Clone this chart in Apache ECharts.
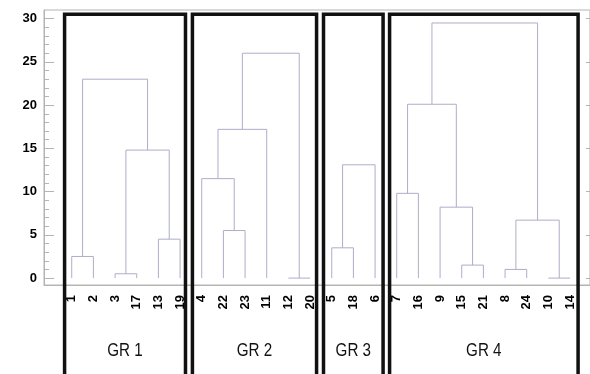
<!DOCTYPE html>
<html>
<head>
<meta charset="utf-8">
<script src="https://cdn.jsdelivr.net/npm/echarts@6/dist/echarts.min.js"></script>
<style>html,body{margin:0;padding:0;background:#fff}#c{width:590px;height:374px}</style>
</head>
<body>
<div id="c"></div>
<script>
// Leaf labels in dendrogram order
const leaves = ['1','2','3','17','13','19','4','22','23','11','12','20','5','18','6','7','16','9','15','21','8','24','10','14'];
// Merges: [childA, childB, height]; child < 24 is a leaf index, otherwise cluster id (24 + merge index)
const merges = [
  [0, 1, 2.5], [2, 3, 0.5], [4, 5, 4.5], [25, 26, 14.8], [24, 27, 23.0],
  [7, 8, 5.5], [6, 29, 11.5], [30, 9, 17.2], [10, 11, 0.0], [31, 32, 26.0],
  [12, 13, 3.5], [34, 14, 13.1],
  [15, 16, 9.8], [18, 19, 1.5], [17, 37, 8.2], [36, 38, 20.1], [20, 21, 1.0], [22, 23, 0.0], [40, 41, 6.7], [39, 42, 29.5]
];
// Group labels and their leaf-index spans (box edges in leaf units)
const groupNames = ['GR 1', 'GR 2', 'GR 3', 'GR 4'];
const groupLeft = [-0.33, 5.57, 11.62, 14.67];
const groupRight = [5.25, 11.30, 14.37, 23.37];
const yTicks = [0, 5, 10, 15, 20, 25, 30];
const yMinorTicks = [1,2,3,4,6,7,8,9,11,12,13,14,16,17,18,19,21,22,23,24,26,27,28,29];

// Build dendrogram polyline data
const nodeX = leaves.map((_, i) => i);
const nodeH = leaves.map(() => 0);
const lineData = [];
merges.forEach(([a, b, h]) => {
  const xa = nodeX[a], xb = nodeX[b];
  lineData.push([xa, nodeH[a]], [xa, h], [xb, h], [xb, nodeH[b]], [null, null]);
  nodeX.push((xa + xb) / 2);
  nodeH.push(h);
});

const chart = echarts.init(document.getElementById('c'));
const gray = '#b4b4b4';
const font = 'Liberation Sans, Arial, sans-serif';
chart.setOption({
  animation: false,
  grid: { left: 44, right: 0, top: 10, bottom: 89, show: true, borderColor: gray, borderWidth: 1 },
  xAxis: {
    type: 'value', min: -1.28, max: 23.92,
    axisLine: { show: true, onZero: false, lineStyle: { color: gray } },
    axisTick: { show: false },
    splitLine: { show: false },
    axisLabel: {
      customValues: leaves.map((_, i) => i),
      formatter: v => leaves[Math.round(v)],
      rotate: 90, margin: 10, color: '#000',
      fontFamily: font, fontWeight: 'bold', fontSize: 13
    }
  },
  yAxis: [
    {
      type: 'value', min: -0.8, max: 31, position: 'left',
      axisLine: { show: true, onZero: false, lineStyle: { color: gray } },
      axisTick: { show: true, inside: true, length: 10, customValues: yTicks, lineStyle: { color: gray } },
      axisLabel: { customValues: yTicks, margin: 7, color: '#000',
        fontFamily: font, fontWeight: 'bold', fontSize: 13 },
      splitLine: { show: false }
    },
    {
      type: 'value', min: -0.8, max: 31, position: 'left', offset: 0,
      axisLine: { show: false, onZero: false },
      axisTick: { show: true, inside: true, length: 5, customValues: yMinorTicks, lineStyle: { color: gray } },
      axisLabel: { show: false },
      splitLine: { show: false }
    },
    {
      type: 'value', min: -0.8, max: 31, position: 'right',
      axisLine: { show: false, onZero: false },
      axisTick: { show: true, inside: true, length: 4, customValues: yTicks, lineStyle: { color: gray } },
      axisLabel: { show: false },
      splitLine: { show: false }
    }
  ],
  series: [{
    type: 'line', data: lineData, connectNulls: false, showSymbol: false, symbol: 'none',
    lineStyle: { color: '#aeadc9', width: 1 }, silent: true
  }]
});

// Group boxes and labels placed through the axis scales
const boxTop = 30.5, boxBottom = -14, labelY = -8.4;
const graphics = [];
groupNames.forEach((name, k) => {
  const p1 = chart.convertToPixel({ gridIndex: 0 }, [groupLeft[k], boxTop]);
  const p2 = chart.convertToPixel({ gridIndex: 0 }, [groupRight[k], boxBottom]);
  graphics.push({
    type: 'rect', z: 100,
    shape: { x: p1[0], y: p1[1], width: p2[0] - p1[0], height: p2[1] - p1[1] },
    style: { fill: 'none', stroke: '#111', lineWidth: 3.5 }
  });
  const pc = chart.convertToPixel({ gridIndex: 0 }, [(groupLeft[k] + groupRight[k]) / 2, labelY]);
  graphics.push({
    type: 'text', z: 100, x: pc[0], y: pc[1], scaleX: 0.8, scaleY: 1,
    style: { text: name, fill: '#111', fontSize: 19, fontFamily: font,
      align: 'center', verticalAlign: 'middle' }
  });
});
chart.setOption({ graphic: graphics });
</script>
</body>
</html>
